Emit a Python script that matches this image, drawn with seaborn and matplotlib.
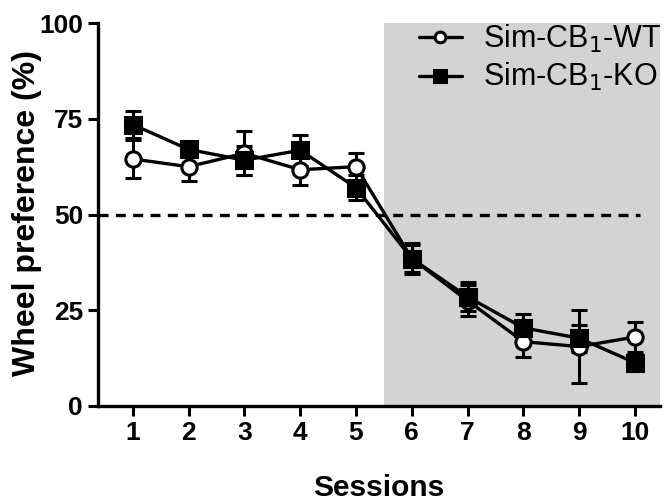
import numpy as np
import pandas as pd
import seaborn as sns
import matplotlib.pyplot as plt

sessions = [1, 2, 3, 4, 5, 6, 7, 8, 9, 10]
wt_mean = [64.5, 62.5, 66.0, 61.7, 62.5, 38.5, 27.5, 16.8, 15.5, 18.0]
wt_sem = [5.0, 3.8, 5.8, 3.9, 3.5, 4.0, 4.0, 3.9, 9.5, 3.8]
ko_mean = [73.5, 67.0, 64.2, 66.8, 57.0, 38.5, 28.5, 20.4, 17.7, 11.3]
ko_sem = [3.5, 2.0, 3.8, 4.0, 3.2, 3.5, 3.8, 3.6, 3.5, 2.2]
labels = ["Sim-CB$_1$-WT", "Sim-CB$_1$-KO"]

df = pd.DataFrame({
    "Sessions": sessions * 2,
    "pref": wt_mean + ko_mean,
    "sem": wt_sem + ko_sem,
    "group": [labels[0]] * 10 + [labels[1]] * 10,
})

sns.set_style("ticks")
plt.rcParams["font.family"] = ["Liberation Sans", "DejaVu Sans"]
plt.rcParams["text.color"] = "black"
plt.rcParams["axes.labelcolor"] = "black"
plt.rcParams["xtick.color"] = "black"
plt.rcParams["ytick.color"] = "black"
plt.rcParams["axes.edgecolor"] = "black"

fig = plt.figure(figsize=(6.64, 5.03), dpi=100)
ax = fig.add_axes([0.148, 0.193, 0.846, 0.761])

# grauer Bereich ab Session 6
ax.axvspan(5.5, 10.45, color="#d3d3d3", lw=0, zorder=0)
ax.hlines(50, 0.38, 10.1, colors="black", linestyles=(0, (3, 2.2)), lw=2.4, zorder=1)

styles = {labels[0]: dict(marker="o", mfc="white", ms=11),
          labels[1]: dict(marker="s", mfc="black", ms=12)}

for g, sub in df.groupby("group", sort=False):
    ax.errorbar(sub["Sessions"], sub["pref"], yerr=sub["sem"], fmt="none",
                ecolor="black", elinewidth=2.2, capsize=6, capthick=2.2, zorder=2)

sns.lineplot(data=df, x="Sessions", y="pref", hue="group", style="group",
             palette=["black", "black"], markers={labels[0]: "o", labels[1]: "s"},
             dashes=False, lw=2.4, ax=ax, legend=False, zorder=3)
# Marker anpassen
for line, g in zip(ax.lines[-2:], labels):
    line.set_markerfacecolor(styles[g]["mfc"])
    line.set_markeredgecolor("black")
    line.set_markeredgewidth(2.2)
    line.set_markersize(styles[g]["ms"])
    line.set_label(g)

ax.set_xlim(0.38, 10.45)
ax.set_ylim(0, 100)
ax.set_xticks(sessions)
ax.set_yticks([0, 25, 50, 75, 100])
ax.tick_params(width=2.2, length=7, labelsize=19, pad=4, colors="black")
for t in ax.get_xticklabels() + ax.get_yticklabels():
    t.set_fontweight("bold")
for s in ["left", "bottom"]:
    ax.spines[s].set_linewidth(2.4)
sns.despine(ax=ax)

ax.set_xlabel("Sessions", fontsize=21.5, fontweight="bold", labelpad=21)
ax.set_ylabel("Wheel preference (%)", fontsize=23, fontweight="bold")
ax.yaxis.set_label_coords(-0.1, 0.505)

leg = ax.legend(handles=ax.lines[-2:], loc="upper right", frameon=False,
                fontsize=22, handlelength=1.4, handletextpad=0.7,
                labelspacing=0.2, markerscale=0.7, borderaxespad=0.1,
                bbox_to_anchor=(1.03, 1.04))

fig.savefig("out.png", dpi=100)
